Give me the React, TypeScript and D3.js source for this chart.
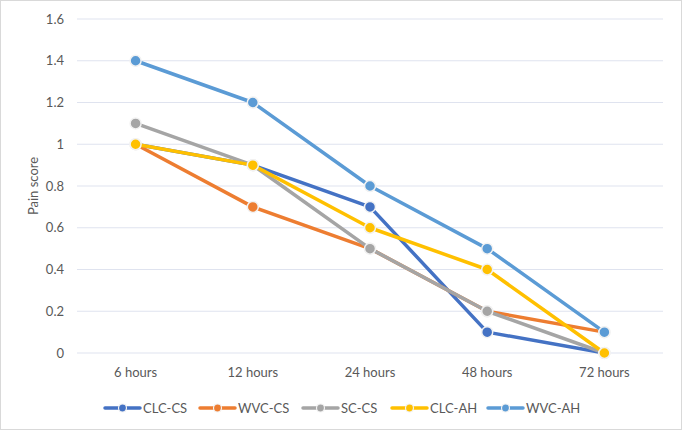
import * as d3 from "d3";

const WIDTH = 682;
const HEIGHT = 430;
const MARGIN = { top: 19, right: 19, bottom: 77, left: 77 };

const CATEGORIES = ["6 hours", "12 hours", "24 hours", "48 hours", "72 hours"];
const Y_TICKS = [0, 0.2, 0.4, 0.6, 0.8, 1, 1.2, 1.4, 1.6];

const SERIES_NAMES = ["CLC-CS", "WVC-CS", "SC-CS", "CLC-AH", "WVC-AH"];
const SERIES_COLORS = ["#4472c4", "#ed7d31", "#a5a5a5", "#ffc000", "#5b9bd5"];

const CLC_CS = [1, 0.9, 0.7, 0.1, 0];
const WVC_CS = [1, 0.7, 0.5, 0.2, 0.1];
const SC_CS = [1.1, 0.9, 0.5, 0.2, 0];
const CLC_AH = [1, 0.9, 0.6, 0.4, 0];
const WVC_AH = [1.4, 1.2, 0.8, 0.5, 0.1];

const SERIES_VALUES = [CLC_CS, WVC_CS, SC_CS, CLC_AH, WVC_AH];

const LEGEND_X = [105, 200, 303, 392, 488];

const FONT = "Lato, 'Open Sans', sans-serif";

export default function App() {
  const x = d3
    .scaleBand()
    .domain(CATEGORIES)
    .range([MARGIN.left, WIDTH - MARGIN.right]);
  const y = d3
    .scaleLinear()
    .domain([0, 1.6])
    .range([HEIGHT - MARGIN.bottom, MARGIN.top]);

  const cx = (c: string) => (x(c) ?? 0) + x.bandwidth() / 2;

  const line = d3
    .line<number>()
    .x((_, i) => cx(CATEGORIES[i]))
    .y((v) => y(v));

  return (
    <div style={{ position: "absolute", left: 0, top: 0 }}>
      <svg width={WIDTH} height={HEIGHT} style={{ display: "block", fontFamily: FONT }}>
        <rect x={0.5} y={0.5} width={WIDTH - 1} height={HEIGHT - 1} fill="#fff" stroke="#d9d9d9" />

        {/* grid + y labels */}
        {Y_TICKS.map((t) => (
          <g key={t}>
            <line
              x1={MARGIN.left}
              x2={WIDTH - MARGIN.right}
              y1={y(t)}
              y2={y(t)}
              stroke="#dfe3ef"
              strokeWidth={1}
            />
            <text
              x={MARGIN.left - 13}
              y={y(t)}
              dy="0.35em"
              textAnchor="end"
              fontSize={13}
              fill="#595959"
            >
              {t}
            </text>
          </g>
        ))}

        {/* x labels */}
        {CATEGORIES.map((c) => (
          <text
            key={c}
            x={cx(c)}
            y={HEIGHT - MARGIN.bottom + 24}
            textAnchor="middle"
            fontSize={13}
            fill="#595959"
          >
            {c}
          </text>
        ))}

        <text
          transform={`translate(38,${(MARGIN.top + HEIGHT - MARGIN.bottom) / 2}) rotate(-90)`}
          textAnchor="middle"
          fontSize={13}
          fill="#595959"
        >
          Pain score
        </text>

        {/* series */}
        {SERIES_VALUES.map((vals, s) => (
          <g key={SERIES_NAMES[s]}>
            <path
              d={line(vals) ?? ""}
              fill="none"
              stroke={SERIES_COLORS[s]}
              strokeWidth={3.5}
              strokeLinejoin="round"
              strokeLinecap="round"
            />
            {vals.map((v, i) => (
              <circle
                key={i}
                cx={cx(CATEGORIES[i])}
                cy={y(v)}
                r={5.5}
                fill={SERIES_COLORS[s]}
                stroke="#f2f2f2"
                strokeWidth={1.5}
              />
            ))}
          </g>
        ))}

        {/* legend */}
        {SERIES_NAMES.map((name, s) => (
          <g key={name} transform={`translate(${LEGEND_X[s]},408)`}>
            <line x1={0} x2={35} y1={0} y2={0} stroke={SERIES_COLORS[s]} strokeWidth={3.5} strokeLinecap="round" />
            <circle cx={17.5} cy={0} r={4} fill={SERIES_COLORS[s]} stroke="#f2f2f2" strokeWidth={1.2} />
            <text x={38} y={0} dy="0.35em" fontSize={13} fill="#595959">
              {name}
            </text>
          </g>
        ))}
      </svg>
    </div>
  );
}
